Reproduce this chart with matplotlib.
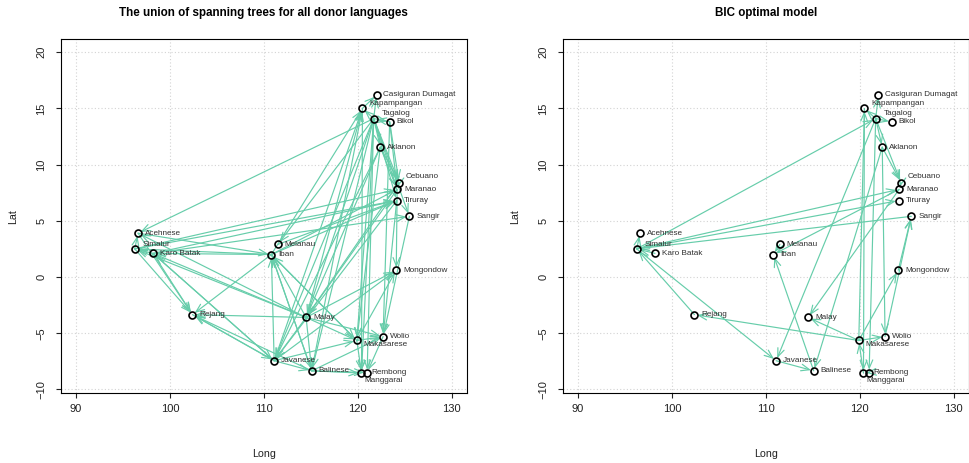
import matplotlib
matplotlib.use('Agg')
import matplotlib.pyplot as plt
from matplotlib.patches import FancyArrowPatch

plt.rcParams['font.family'] = ['Liberation Sans', 'DejaVu Sans']

# language locations (longitude, latitude)
languages = ['Casiguran Dumagat', 'Kapampangan', 'Tagalog', 'Bikol', 'Aklanon',
             'Cebuano', 'Maranao', 'Tiruray', 'Sangir', 'Acehnese', 'Simalur',
             'Karo Batak', 'Melanau', 'Iban', 'Mongondow', 'Rejang', 'Malay',
             'Wolio', 'Makasarese', 'Javanese', 'Balinese', 'Manggarai', 'Rembong']
lon = [122.0, 120.5, 121.7, 123.4, 122.4, 124.4, 124.2, 124.15, 125.5, 96.6, 96.25,
       98.2, 111.5, 110.8, 124.1, 102.4, 114.5, 122.7, 119.9, 111.1, 115.1, 120.4, 121.0]
lat = [16.2, 15.0, 14.1, 13.8, 11.55, 8.4, 7.8, 6.8, 5.4, 3.9, 2.5,
       2.1, 2.9, 2.0, 0.6, -3.35, -3.6, -5.3, -5.65, -7.45, -8.35, -8.55, -8.5]

# borrowing edges (donor -> recipient)
union_edges = [
    ('Tagalog', 'Kapampangan'), ('Tagalog', 'Casiguran Dumagat'), ('Tagalog', 'Bikol'),
    ('Bikol', 'Tagalog'), ('Tagalog', 'Aklanon'), ('Aklanon', 'Cebuano'),
    ('Tagalog', 'Cebuano'), ('Tagalog', 'Maranao'), ('Tagalog', 'Tiruray'),
    ('Tagalog', 'Sangir'), ('Bikol', 'Cebuano'), ('Bikol', 'Maranao'),
    ('Kapampangan', 'Casiguran Dumagat'), ('Aklanon', 'Maranao'), ('Cebuano', 'Maranao'),
    ('Tagalog', 'Acehnese'), ('Acehnese', 'Iban'), ('Simalur', 'Acehnese'),
    ('Karo Batak', 'Simalur'), ('Iban', 'Karo Batak'), ('Iban', 'Simalur'),
    ('Malay', 'Karo Batak'), ('Malay', 'Simalur'), ('Malay', 'Acehnese'),
    ('Simalur', 'Rejang'), ('Karo Batak', 'Rejang'), ('Acehnese', 'Rejang'),
    ('Iban', 'Rejang'), ('Malay', 'Rejang'), ('Javanese', 'Rejang'),
    ('Balinese', 'Rejang'), ('Karo Batak', 'Javanese'), ('Javanese', 'Karo Batak'),
    ('Simalur', 'Tiruray'), ('Simalur', 'Maranao'), ('Karo Batak', 'Sangir'),
    ('Karo Batak', 'Tiruray'), ('Iban', 'Tiruray'), ('Iban', 'Maranao'),
    ('Melanau', 'Tiruray'), ('Tagalog', 'Melanau'), ('Iban', 'Kapampangan'),
    ('Javanese', 'Kapampangan'), ('Malay', 'Kapampangan'), ('Balinese', 'Kapampangan'),
    ('Malay', 'Iban'), ('Javanese', 'Iban'), ('Balinese', 'Iban'),
    ('Makasarese', 'Iban'), ('Tagalog', 'Malay'), ('Cebuano', 'Malay'),
    ('Aklanon', 'Malay'), ('Maranao', 'Malay'), ('Tagalog', 'Javanese'),
    ('Aklanon', 'Javanese'), ('Tiruray', 'Javanese'), ('Malay', 'Javanese'),
    ('Tagalog', 'Balinese'), ('Tagalog', 'Makasarese'), ('Tagalog', 'Manggarai'),
    ('Tagalog', 'Rembong'), ('Kapampangan', 'Manggarai'), ('Bikol', 'Wolio'),
    ('Aklanon', 'Makasarese'), ('Maranao', 'Mongondow'), ('Javanese', 'Mongondow'),
    ('Makasarese', 'Mongondow'), ('Malay', 'Mongondow'), ('Sangir', 'Wolio'),
    ('Tiruray', 'Wolio'), ('Malay', 'Wolio'), ('Makasarese', 'Wolio'),
    ('Balinese', 'Wolio'), ('Javanese', 'Makasarese'), ('Malay', 'Makasarese'),
    ('Iban', 'Makasarese'), ('Balinese', 'Manggarai'), ('Balinese', 'Rembong'),
    ('Makasarese', 'Manggarai'), ('Wolio', 'Rembong'), ('Javanese', 'Balinese'),
    ('Malay', 'Balinese'), ('Iban', 'Balinese'), ('Rejang', 'Javanese'),
]

bic_edges = [
    ('Simalur', 'Acehnese'), ('Simalur', 'Tagalog'), ('Simalur', 'Maranao'),
    ('Simalur', 'Tiruray'), ('Sangir', 'Simalur'), ('Karo Batak', 'Simalur'),
    ('Rejang', 'Simalur'), ('Simalur', 'Javanese'), ('Makasarese', 'Rejang'),
    ('Makasarese', 'Malay'), ('Makasarese', 'Wolio'), ('Makasarese', 'Mongondow'),
    ('Manggarai', 'Makasarese'), ('Javanese', 'Balinese'), ('Balinese', 'Iban'),
    ('Melanau', 'Iban'), ('Maranao', 'Iban'), ('Maranao', 'Malay'),
    ('Tagalog', 'Javanese'), ('Aklanon', 'Balinese'), ('Aklanon', 'Wolio'),
    ('Tagalog', 'Rembong'), ('Makasarese', 'Kapampangan'), ('Kapampangan', 'Manggarai'),
    ('Wolio', 'Sangir'), ('Mongondow', 'Sangir'), ('Tagalog', 'Kapampangan'),
    ('Tagalog', 'Casiguran Dumagat'), ('Tagalog', 'Bikol'), ('Tagalog', 'Aklanon'),
    ('Tagalog', 'Cebuano'), ('Aklanon', 'Cebuano'), ('Cebuano', 'Maranao'),
    ('Rembong', 'Manggarai'),
]

titles = ['The union of spanning trees for all donor languages', 'BIC optimal model']
x_ticks = [90, 100, 110, 120, 130]
y_ticks = [-10, -5, 0, 5, 10, 15, 20]

# extra label nudges in points (dx, dy)
nudge = {'Kapampangan': (0.0, 3.4), 'Tagalog': (0.6, 3.4), 'Simalur': (0.5, 3.4),
         'Cebuano': (0.0, 4.3), 'Makasarese': (0.0, -2.9),
         'Manggarai': (-2.7, -5.0), 'Rembong': (-1.9, 0.0)}

edge_col = '#66CDAA'
pos = {n: (x, y) for n, x, y in zip(languages, lon, lat)}

fig = plt.figure(figsize=(9.7, 4.63), dpi=100)
ax_boxes = [[0.0629, 0.1505, 0.4182, 0.7646], [0.5804, 0.1505, 0.4182, 0.7646]]

for box, title, edges in zip(ax_boxes, titles, [union_edges, bic_edges]):
    ax = fig.add_axes(box)
    ax.set_xlim(88.4, 131.6)
    ax.set_ylim(-10.35, 21.15)
    ax.set_xticks(x_ticks)
    ax.set_yticks(y_ticks)
    ax.grid(True, color='#d3d3d3', linestyle=(0, (1, 2)), linewidth=0.8)
    ax.set_axisbelow(True)
    for s in ax.spines.values():
        s.set_linewidth(0.8)
    ax.tick_params(length=3.6, width=0.8, labelsize=8.0, colors='#222222')
    ax.tick_params(axis='x', pad=4)
    ax.tick_params(axis='y', pad=7)
    for lbl in ax.get_yticklabels():
        lbl.set_rotation(90)
        lbl.set_va('center')
    ax.set_xlabel('Long', fontsize=7.7, labelpad=25, color='#222222')
    ax.set_ylabel('Lat', fontsize=7.7, labelpad=13, color='#222222')
    ax.set_title(title, fontsize=8.4, fontweight='bold', pad=16.5)

    for src, dst in edges:
        arr = FancyArrowPatch(pos[src], pos[dst], arrowstyle='->,head_length=0.6,head_width=0.24',
                              mutation_scale=10, color=edge_col, linewidth=0.85,
                              shrinkA=0, shrinkB=2, zorder=2)
        ax.add_patch(arr)

    ax.plot(lon, lat, 'o', markersize=5, markerfacecolor='none',
            markeredgecolor='black', markeredgewidth=1.2, zorder=3)
    for n, x, y in zip(languages, lon, lat):
        dx, dy = nudge.get(n, (0.0, 0.0))
        ax.annotate(n, (x, y), xytext=(5.0 + dx, dy), textcoords='offset points',
                    fontsize=5.9, color='#303030', ha='left', va='center', zorder=4)

fig.savefig('out.png', dpi=100)
